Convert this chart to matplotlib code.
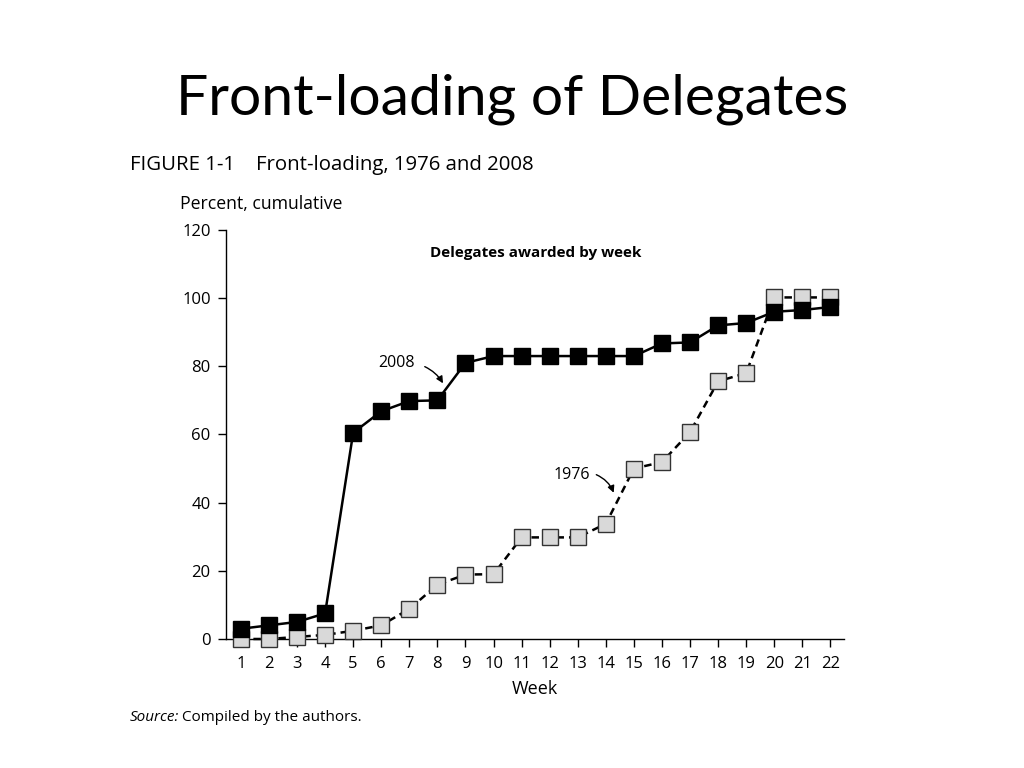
"""Front-loading of delegates, 1976 vs 2008 (cumulative percent by week)."""

import matplotlib
matplotlib.use("Agg")
import matplotlib.pyplot as plt

WEEKS = list(range(1, 23))
PCT_2008 = [3, 4, 5, 7.5, 60.5, 66.8, 69.8, 70, 81, 83, 83, 83, 83, 83, 83,
            86.7, 87, 92, 92.7, 96, 96.5, 97.4]
PCT_1976 = [0, 0, 0.6, 1.2, 2.4, 4, 8.8, 15.9, 18.9, 19, 29.8, 29.8, 29.8,
            33.8, 50, 51.9, 60.7, 75.6, 78, 100.2, 100.2, 100.2]
Y_TICKS = [0, 20, 40, 60, 80, 100, 120]

FONT = ["Open Sans", "DejaVu Sans"]
TITLE_FONT = ["Lato", "DejaVu Sans"]


def label_with_arrow(ax, text, text_xy, tail_xy, head_xy, rad):
    ax.text(*text_xy, text, fontsize=11.5, ha="center", va="center")
    ax.annotate("", xy=head_xy, xytext=tail_xy,
                arrowprops=dict(arrowstyle="-|>", color="black", lw=1.0,
                                mutation_scale=10, shrinkA=0, shrinkB=0,
                                connectionstyle=f"arc3,rad={rad}"))


def main():
    plt.rcParams["font.family"] = FONT
    fig = plt.figure(figsize=(10.24, 7.68), dpi=100)
    ax = fig.add_axes([0.2207, 0.168, 0.604, 0.5326])

    ax.plot(WEEKS, PCT_1976, color="black", lw=1.8, ls=(0, (3, 2)),
            marker="s", ms=11.5, mfc="#d9d9d9", mec="#333333", mew=1.0,
            zorder=3, clip_on=False)
    ax.plot(WEEKS, PCT_2008, color="black", lw=1.8, ls="-",
            marker="s", ms=11.5, mfc="black", mec="black",
            zorder=4, clip_on=False)

    ax.set_xlim(0.47, 22.5)
    ax.set_ylim(0, 120)
    ax.set_xticks(WEEKS)
    ax.set_yticks(Y_TICKS)
    ax.tick_params(axis="both", labelsize=12, length=6, width=1.0, direction="out")
    ax.tick_params(axis="x", pad=6)
    ax.tick_params(axis="y", pad=5)
    for side in ("top", "right"):
        ax.spines[side].set_visible(False)
    for side in ("left", "bottom"):
        ax.spines[side].set_linewidth(1.0)

    ax.set_xlabel("Week", fontsize=13, labelpad=6)

    ax.text(0.5, 0.944, "Delegates awarded by week", transform=ax.transAxes,
            ha="center", va="center", fontsize=11, fontweight="bold")

    label_with_arrow(ax, "2008", (6.55, 80.9), (7.55, 79.9), (8.2, 75.0), -0.15)
    label_with_arrow(ax, "1976", (12.78, 48.2), (13.66, 48.2), (14.28, 42.9), -0.2)

    fig.text(0.5, 0.871, "Front-loading of Delegates", ha="center", va="center",
             fontsize=41, family=TITLE_FONT)
    fig.text(0.127, 0.785, "FIGURE 1-1    Front-loading, 1976 and 2008",
             ha="left", va="center", fontsize=14.7)
    fig.text(0.176, 0.735, "Percent, cumulative", ha="left", va="center",
             fontsize=12.7)
    fig.text(0.127, 0.066, "Source:", ha="left", va="center", fontsize=11,
             style="italic")
    fig.text(0.1775, 0.066, "Compiled by the authors.", ha="left", va="center",
             fontsize=11)

    fig.savefig("out.png", dpi=100)
    plt.close(fig)


if __name__ == "__main__":
    main()
